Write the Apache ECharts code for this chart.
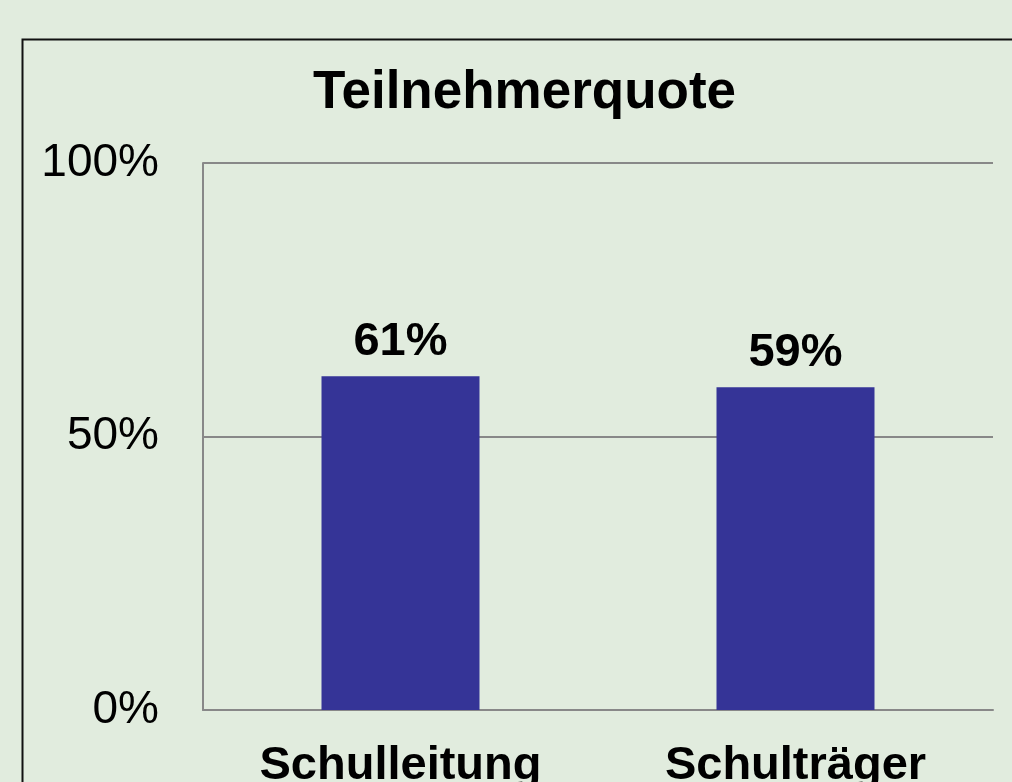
<!DOCTYPE html>
<html>
<head>
<meta charset="utf-8">
<script src="https://cdn.jsdelivr.net/npm/echarts@6/dist/echarts.min.js"></script>
<style>
  html, body { margin: 0; padding: 0; background: #e1ecde; }
  #chart { width: 1012px; height: 782px; }
</style>
</head>
<body>
<div id="chart"></div>
<script>
// Daten
var categories = ['Schulleitung', 'Schulträger'];
var quote = [61, 59];
var yTicks = [0, 50, 100];

var myChart = echarts.init(document.getElementById('chart'));
var font = "'Liberation Sans', Arial, sans-serif";

var option = {
  backgroundColor: '#e1ecde',
  title: {
    text: 'Teilnehmerquote',
    left: 308,
    top: 62,
    textStyle: { fontFamily: font, fontSize: 53, fontWeight: 'bold', color: '#000' }
  },
  graphic: [{
    type: 'rect',
    left: 20,
    top: 37,
    shape: { width: 1100, height: 900 },
    style: { fill: 'none', stroke: '#111', lineWidth: 2 },
    silent: true
  }],
  grid: { left: 203, right: 19, top: 163, bottom: 72, outerBoundsMode: 'none', containLabel: false },
  xAxis: {
    type: 'category',
    data: categories,
    axisLine: { lineStyle: { color: '#888', width: 2 } },
    axisTick: { show: false },
    axisLabel: {
      margin: 33,
      fontFamily: font, fontSize: 47, fontWeight: 'bold', color: '#000'
    }
  },
  yAxis: {
    type: 'value',
    min: yTicks[0],
    max: yTicks[yTicks.length - 1],
    interval: 50,
    axisLine: { show: true, lineStyle: { color: '#888', width: 2 } },
    axisTick: { show: false },
    splitLine: { lineStyle: { color: '#888', width: 2 } },
    axisLabel: {
      margin: 44,
      formatter: '{value}%',
      fontFamily: font, fontSize: 46, color: '#000'
    }
  },
  series: [{
    type: 'bar',
    data: quote,
    barWidth: '40%',
    itemStyle: { color: '#353497' },
    label: {
      show: true,
      position: 'top',
      distance: 11,
      formatter: '{c}%',
      fontFamily: font, fontSize: 47, fontWeight: 'bold', color: '#000'
    }
  }]
};

myChart.setOption(option);
</script>
</body>
</html>
